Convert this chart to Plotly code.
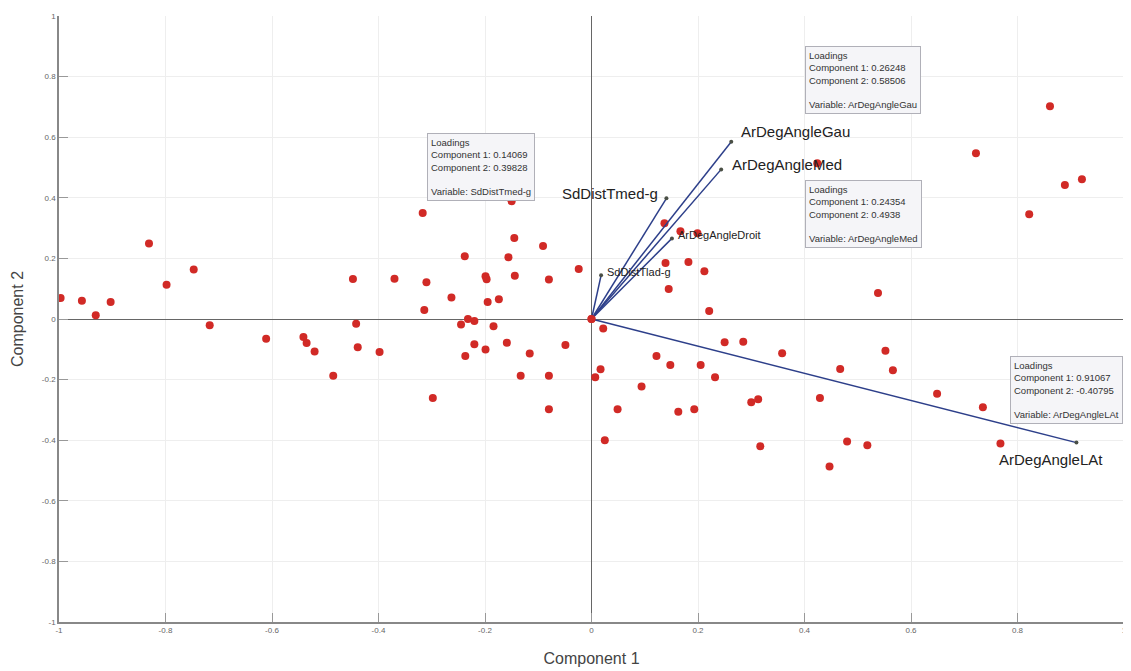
import plotly.graph_objects as go

# ---- data ----
score_c1 = [-0.997, -0.957, -0.931, -0.903, -0.831, -0.798, -0.747, -0.717, -0.611, -0.541,
            -0.535, -0.520, -0.485, -0.448, -0.442, -0.439, -0.398, -0.370, -0.317, -0.314,
            -0.310, -0.298, -0.263, -0.245, -0.238, -0.237, -0.232, -0.220, -0.220, -0.199,
            -0.197, -0.195, -0.199, -0.174, -0.184, -0.159, -0.156, -0.150, -0.145, -0.144,
            -0.133, -0.116, -0.091, -0.080, -0.080, -0.080, -0.049, -0.024, 0.000,
            0.022, 0.017, 0.007, 0.049, 0.025, 0.094, 0.122, 0.148, 0.163, 0.193,
            0.205, 0.221, 0.232, 0.250, 0.285, 0.300, 0.313, 0.317, 0.358, 0.429,
            0.447, 0.467, 0.480, 0.518, 0.552, 0.566, 0.649, 0.735, 0.768,
            0.137, 0.167, 0.199, 0.139, 0.182, 0.212, 0.145, 0.424, 0.538, 0.722,
            0.822, 0.861, 0.889, 0.921]
score_c2 = [0.069, 0.060, 0.012, 0.056, 0.249, 0.113, 0.163, -0.021, -0.065, -0.059,
            -0.079, -0.107, -0.187, 0.132, -0.016, -0.093, -0.109, 0.133, 0.350, 0.030,
            0.121, -0.261, 0.071, -0.018, 0.207, -0.122, 0.000, -0.007, -0.083, 0.141,
            0.131, 0.056, -0.101, 0.065, -0.024, -0.078, 0.204, 0.389, 0.267, 0.143,
            -0.187, -0.114, 0.241, 0.130, -0.187, -0.298, -0.086, 0.165, 0.000,
            -0.031, -0.166, -0.192, -0.298, -0.400, -0.223, -0.122, -0.152, -0.306, -0.298,
            -0.152, 0.026, -0.192, -0.077, -0.075, -0.275, -0.265, -0.420, -0.113, -0.261,
            -0.487, -0.165, -0.404, -0.417, -0.105, -0.169, -0.247, -0.291, -0.411,
            0.316, 0.290, 0.283, 0.185, 0.188, 0.158, 0.099, 0.514, 0.086, 0.547,
            0.346, 0.702, 0.442, 0.461]

var_names = ["ArDegAngleGau", "ArDegAngleMed", "SdDistTmed-g", "ArDegAngleDroit",
             "SdDistTlad-g", "ArDegAngleLAt"]
load_c1 = [0.26248, 0.24354, 0.14069, 0.151, 0.018, 0.91067]
load_c2 = [0.58506, 0.4938, 0.39828, 0.266, 0.144, -0.40795]

# tooltip boxes shown (variable index)
tip_vars = [2, 0, 1, 5]
tip_pos = [(-0.308, 0.613), (0.401, 0.900), (0.401, 0.458), (0.998, -0.122)]
tip_anchor = ["left", "left", "left", "right"]
tip_vals = ["0.14069", "0.39828", "0.26248", "0.58506", "0.24354", "0.4938", "0.91067", "-0.40795"]

tick_vals = [-1, -0.8, -0.6, -0.4, -0.2, 0, 0.2, 0.4, 0.6, 0.8, 1]
tick_text = ["-1", "-0.8", "-0.6", "-0.4", "-0.2", "0", "0.2", "0.4", "0.6", "0.8", "1"]

# label layout per variable: (xanchor, yanchor, xshift, yshift, size)
label_style = [("left", "middle", 8, 10, 15),
               ("left", "middle", 9, 5, 15),
               ("right", "middle", -6, 5, 15),
               ("left", "middle", 4, 3, 11),
               ("left", "middle", 4, 3, 11),
               ("center", "top", -25, -6, 15)]

fig = go.Figure()

# scores
fig.add_trace(go.Scatter(x=score_c1, y=score_c2, mode="markers",
                         marker=dict(color="#d12a26", size=8), showlegend=False,
                         hoverinfo="skip"))

# loading vectors
for i, name in enumerate(var_names):
    fig.add_trace(go.Scatter(x=[0, load_c1[i]], y=[0, load_c2[i]], mode="lines",
                             line=dict(color="#2d3f8a", width=1.5), showlegend=False,
                             hoverinfo="skip"))
fig.add_trace(go.Scatter(x=load_c1, y=load_c2, mode="markers",
                         marker=dict(color="#4a4f45", size=4), showlegend=False,
                         hoverinfo="skip"))
fig.add_trace(go.Scatter(x=[0], y=[0], mode="markers",
                         marker=dict(color="#d12a26", size=8), showlegend=False,
                         hoverinfo="skip"))

for i, name in enumerate(var_names):
    xa, ya, xs, ys, sz = label_style[i]
    fig.add_annotation(x=load_c1[i], y=load_c2[i], text=name, showarrow=False,
                       xanchor=xa, yanchor=ya, xshift=xs, yshift=ys,
                       font=dict(family="Liberation Sans, Arial", size=sz, color="#222222"))

for k, vi in enumerate(tip_vars):
    txt = ("Loadings<br>Component 1: " + tip_vals[2 * k] + "<br>Component 2: "
           + tip_vals[2 * k + 1] + "<br> <br>Variable: " + var_names[vi])
    fig.add_annotation(x=tip_pos[k][0], y=tip_pos[k][1], text=txt, showarrow=False,
                       xanchor=tip_anchor[k], yanchor="top", align="left",
                       bgcolor="#f5f5f8", bordercolor="#b0b0b8", borderwidth=1, borderpad=3,
                       font=dict(family="Liberation Sans, Arial", size=9.5, color="#333333"))

axis_common = dict(range=[-1, 1], tickmode="array", tickvals=tick_vals, ticktext=tick_text,
                   showgrid=True, gridcolor="#eeeeee", gridwidth=1,
                   zeroline=True, zerolinecolor="#666666", zerolinewidth=1,
                   showline=True, linecolor="#888888", linewidth=1.5,
                   ticks="inside", ticklen=9, tickcolor="#999999",
                   tickfont=dict(family="Liberation Sans, Arial", size=8, color="#666666"))

fig.update_xaxes(**axis_common,
                 title=dict(text="Component 1", standoff=18,
                            font=dict(family="Liberation Sans, Arial", size=16, color="#444444")))
fig.update_yaxes(**axis_common,
                 title=dict(text="Component 2", standoff=14,
                            font=dict(family="Liberation Sans, Arial", size=16, color="#444444")))

fig.update_layout(width=1123, height=663, margin=dict(l=51, r=4, t=5, b=49),
                  paper_bgcolor="white", plot_bgcolor="white", showlegend=False)

fig.write_html("out.html")
